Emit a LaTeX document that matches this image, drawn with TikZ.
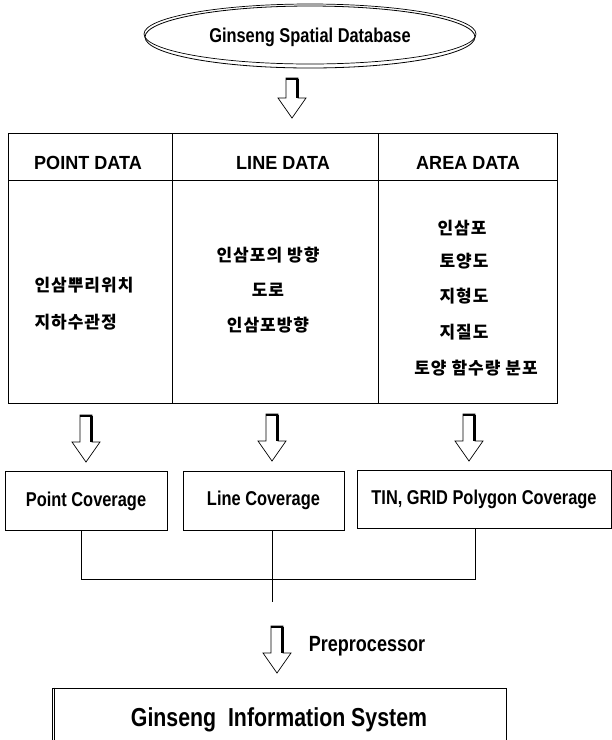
\documentclass[tikz,border=0pt]{standalone}
\usepackage{fontspec}
\usetikzlibrary{shapes.geometric}
\newfontfamily\cond[FakeStretch=0.82]{Liberation Sans}
\newfontfamily\hdr[FakeStretch=0.95]{Liberation Sans}
\newfontfamily\kr[LetterSpace=6]{Noto Sans CJK KR}
\newcommand{\fatarrow}[3]{%
  \filldraw[fill=white, draw=black, line width=0.7pt, line join=miter]
    (#1-6, #2) -- (#1+6, #2) -- (#1+6, #3-20) -- (#1+14, #3-20) -- (#1, #3)
    -- (#1-14, #3-20) -- (#1-6, #3-20) -- cycle;
  \draw[line width=2.2pt] (#1+5.5, #2+1) -- (#1+5.5, #3-20);
  \draw[line width=2pt] (#1-6, #2+1) -- (#1+6, #2+1);
}

\begin{document}
\begin{tikzpicture}[x=1pt, y=-1pt,
    box/.style={draw=black, line width=0.8pt, inner sep=0pt},
    cov/.style={box, font=\cond\bfseries\fontsize{20}{24}\selectfont},
    colhead/.style={font=\hdr\bfseries\fontsize{19}{23}\selectfont},
    kor/.style={font=\kr\bfseries\fontsize{17}{20}\selectfont},
    wire/.style={draw=black, line width=0.8pt}]

    \clip (0, 0) rectangle (612, 740);

    \node[box, ellipse, minimum width=330, minimum height=62,
      font=\cond\bfseries\fontsize{20}{24}\selectfont] (db) at (310, 37) {Ginseng Spatial Database};
    \draw[draw=black, line width=0.7pt] (310, 34) ellipse [x radius=166, y radius=30];

    \fatarrow{292}{78}{118}

    \draw[draw=black, line width=0.9pt] (8, 133) rectangle (557, 403);
    \draw[draw=black, line width=0.9pt] (8, 180) -- (557, 180);
    \draw[draw=black, line width=0.9pt] (172, 133) -- (172, 403);
    \draw[draw=black, line width=0.9pt] (378, 133) -- (378, 403);

    \node[colhead] (pthead) at (88, 163) {POINT DATA};
    \node[colhead] (lnhead) at (283, 163) {LINE DATA};
    \node[colhead] (arhead) at (468, 163) {AREA DATA};

    \node[kor, anchor=west] (pt1) at (31, 285) {인삼뿌리위치};
    \node[kor, anchor=west] (pt2) at (31, 322) {지하수관정};

    \node[kor] (ln1) at (268, 255) {인삼포의 방향};
    \node[kor] (ln2) at (268, 290) {도로};
    \node[kor] (ln3) at (268, 325) {인삼포방향};

    \node[kor] (ar1) at (462, 228) {인삼포};
    \node[kor] (ar2) at (464, 261) {토양도};
    \node[kor] (ar3) at (464, 296) {지형도};
    \node[kor] (ar4) at (464, 332) {지질도};
    \node[kor] (ar5) at (476, 368) {토양 함수량 분포};

    \fatarrow{86}{415}{462}
    \fatarrow{272}{414}{461}
    \fatarrow{469}{414}{461}

    \node[cov, minimum width=162, minimum height=59] (ptcov) at (86, 501) {Point Coverage};
    \node[cov, minimum width=161, minimum height=59] (lncov) at (263.5, 500.5) {Line Coverage};
    \node[cov, minimum width=254, minimum height=58] (tincov) at (484, 499) {TIN, GRID Polygon Coverage};

    \coordinate (join) at (272, 579);
    \coordinate (stub) at (272, 602);
    \draw[wire] ([xshift=-5pt]ptcov.south) |- (join);
    \draw[wire] ([xshift=-9pt]tincov.south) |- (join);
    \draw[wire] ([xshift=8.5pt]lncov.south) -- (stub);

    \fatarrow{277}{626}{673}
    \node[font=\cond\bfseries\fontsize{22}{26}\selectfont] (prep) at (367, 646) {Preprocessor};

    \node[box, minimum width=454, minimum height=64,
      font=\cond\bfseries\fontsize{26}{30}\selectfont] (gis) at (279, 720) {Ginseng\ \ Information System};
    \draw[wire] ([xshift=3pt]gis.north west) -- ([xshift=3pt]gis.south west);
  \end{tikzpicture}
\end{document}
